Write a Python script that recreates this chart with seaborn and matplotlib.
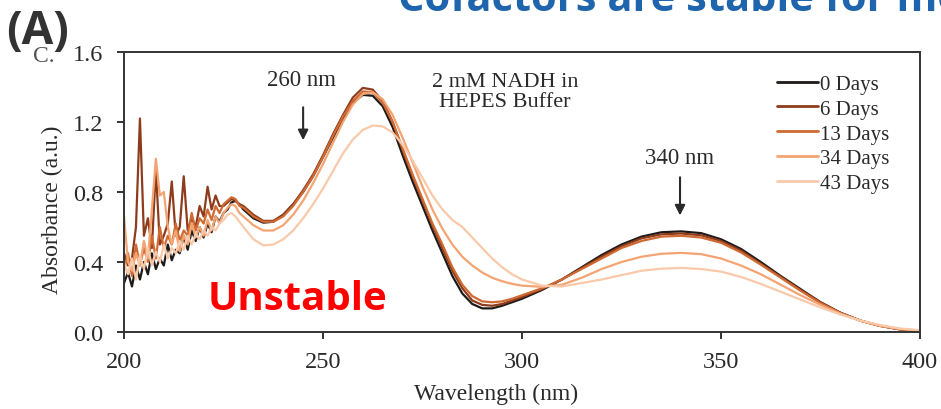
import numpy as np
import pandas as pd
import matplotlib
matplotlib.use("Agg")
import matplotlib.pyplot as plt
import seaborn as sns

# Wavelength grids (nm): noisy region, main bands
wl_noise = list(range(200, 230))
wl_uv = list(np.arange(230, 300.1, 2.5))
wl_vis = list(range(305, 401, 5))
wavelength = wl_noise + wl_uv + wl_vis

labels = ["0 Days", "6 Days", "13 Days", "34 Days", "43 Days"]
colors = ["#1e1a18", "#8e3b1c", "#cf6a32", "#f3a472", "#f9c9aa"]

# Absorbance
day0 = [0.28, 0.34, 0.26, 0.38, 0.30, 0.40, 0.33, 0.45, 0.36, 0.42,
        0.38, 0.50, 0.41, 0.47, 0.45, 0.55, 0.47, 0.58, 0.52, 0.60,
        0.54, 0.62, 0.57, 0.66, 0.63, 0.68, 0.70, 0.74, 0.75, 0.73,
        0.70, 0.65, 0.625, 0.63, 0.67, 0.73, 0.80, 0.89, 1.00, 1.11,
        1.22, 1.31, 1.355, 1.35, 1.29, 1.17, 1.01, 0.86, 0.72, 0.58,
        0.45, 0.32, 0.22, 0.16, 0.135, 0.135, 0.15, 0.17, 0.19,
        0.24, 0.30, 0.37, 0.44, 0.50, 0.545, 0.57, 0.575, 0.565, 0.53,
        0.475, 0.40, 0.32, 0.245, 0.17, 0.11, 0.065, 0.035, 0.015, 0.005]
day6 = [0.45, 0.38, 0.42, 0.60, 1.22, 0.55, 0.65, 0.48, 0.93, 0.50,
        0.55, 0.62, 0.86, 0.55, 0.60, 0.89, 0.58, 0.65, 0.60, 0.72,
        0.66, 0.83, 0.70, 0.78, 0.72, 0.72, 0.74, 0.76, 0.75, 0.73,
        0.72, 0.67, 0.635, 0.635, 0.67, 0.73, 0.81, 0.90, 1.01, 1.13,
        1.24, 1.34, 1.395, 1.385, 1.32, 1.20, 1.04, 0.89, 0.75, 0.61,
        0.48, 0.35, 0.25, 0.18, 0.155, 0.15, 0.16, 0.18, 0.20,
        0.245, 0.30, 0.365, 0.43, 0.49, 0.535, 0.558, 0.563, 0.553, 0.52,
        0.465, 0.39, 0.315, 0.24, 0.17, 0.11, 0.065, 0.035, 0.015, 0.005]
day13 = [0.35, 0.45, 0.32, 0.50, 0.38, 0.48, 0.40, 0.55, 0.42, 0.60,
         0.48, 0.55, 0.50, 0.62, 0.52, 0.58, 0.55, 0.68, 0.58, 0.65,
         0.62, 0.70, 0.64, 0.72, 0.68, 0.73, 0.75, 0.77, 0.76, 0.72,
         0.71, 0.66, 0.63, 0.63, 0.66, 0.72, 0.80, 0.89, 1.00, 1.12,
         1.23, 1.32, 1.375, 1.37, 1.31, 1.20, 1.05, 0.90, 0.76, 0.62,
         0.50, 0.37, 0.27, 0.205, 0.175, 0.17, 0.175, 0.19, 0.21,
         0.25, 0.30, 0.36, 0.42, 0.48, 0.52, 0.545, 0.55, 0.54, 0.51,
         0.455, 0.385, 0.31, 0.235, 0.165, 0.108, 0.065, 0.035, 0.016, 0.006]
day34 = [0.66, 0.40, 0.35, 0.45, 0.38, 0.52, 0.42, 0.70, 0.99, 0.78,
         0.80, 0.60, 0.50, 0.58, 0.46, 0.55, 0.50, 0.62, 0.54, 0.60,
         0.55, 0.64, 0.58, 0.66, 0.62, 0.68, 0.71, 0.73, 0.72, 0.68,
         0.66, 0.61, 0.58, 0.58, 0.61, 0.67, 0.75, 0.85, 0.96, 1.08,
         1.20, 1.30, 1.36, 1.37, 1.33, 1.24, 1.11, 0.97, 0.83, 0.70,
         0.59, 0.50, 0.43, 0.38, 0.34, 0.31, 0.29, 0.275, 0.265,
         0.258, 0.27, 0.31, 0.36, 0.40, 0.43, 0.447, 0.452, 0.445, 0.42,
         0.38, 0.33, 0.27, 0.21, 0.155, 0.105, 0.065, 0.035, 0.017, 0.008]
day43 = [0.40, 0.33, 0.42, 0.30, 0.44, 0.36, 0.48, 0.38, 0.46, 0.40,
         0.50, 0.42, 0.48, 0.45, 0.52, 0.47, 0.55, 0.50, 0.56, 0.53,
         0.58, 0.55, 0.60, 0.58, 0.62, 0.64, 0.67, 0.68, 0.66, 0.63,
         0.60, 0.53, 0.495, 0.50, 0.53, 0.58, 0.65, 0.73, 0.82, 0.92,
         1.02, 1.10, 1.155, 1.18, 1.175, 1.14, 1.07, 0.98, 0.88, 0.78,
         0.70, 0.64, 0.60, 0.54, 0.48, 0.42, 0.37, 0.33, 0.30,
         0.265, 0.26, 0.28, 0.30, 0.325, 0.35, 0.362, 0.366, 0.36, 0.345,
         0.315, 0.275, 0.23, 0.185, 0.14, 0.10, 0.065, 0.04, 0.02, 0.01]

series = [day0, day6, day13, day34, day43]
df = pd.concat([pd.DataFrame({"Wavelength": wavelength, "Absorbance": s, "Days": lab})
                for s, lab in zip(series, labels)], ignore_index=True)

sns.set_style("ticks")
plt.rcParams["font.family"] = ["Liberation Serif", "DejaVu Serif"]
ink = "#2a2a2a"

fig = plt.figure(figsize=(9.41, 4.10), dpi=100)
ax = fig.add_axes([0.1318, 0.1878, 0.8459, 0.6829])

sns.lineplot(data=df, x="Wavelength", y="Absorbance", hue="Days",
             hue_order=labels, palette=colors, estimator=None,
             linewidth=1.6, ax=ax)

ax.set_xlim(200, 400)
ax.set_ylim(0, 1.6)
ax.set_xticks([200, 250, 300, 350, 400])
ax.set_yticks([0.0, 0.4, 0.8, 1.2, 1.6])
ax.set_yticklabels(["0.0", "0.4", "0.8", "1.2", "1.6"])
ax.tick_params(axis="both", labelsize=17.5, direction="out", length=5,
               width=1.4, color="#333333", labelcolor=ink)
ax.tick_params(axis="x", pad=9)
ax.tick_params(axis="y", pad=10)
for sp in ax.spines.values():
    sp.set_linewidth(1.4)
    sp.set_color("#333333")
ax.set_xlabel("Wavelength (nm)", fontsize=17, color=ink)
ax.set_ylabel("Absorbance (a.u.)", fontsize=17, color=ink)
ax.xaxis.set_label_coords(0.467, -0.182)
ax.yaxis.set_label_coords(-0.077, 0.44)

leg = ax.legend(loc="upper right", bbox_to_anchor=(0.962, 0.92),
                frameon=False, fontsize=15, handlelength=2.0,
                handletextpad=0.1, labelspacing=0.25, borderaxespad=0,
                borderpad=0)
for line in leg.get_lines():
    line.set_linewidth(2)
for t in leg.get_texts():
    t.set_color(ink)

# annotations
ax.annotate("", xy=(245, 1.08), xytext=(245, 1.30),
            arrowprops=dict(arrowstyle="-|>", color=ink, lw=1.5,
                            mutation_scale=15))
ax.text(244.5, 1.445, "260 nm", fontsize=16.5, ha="center", va="center", color=ink)
ax.annotate("", xy=(339.7, 0.65), xytext=(339.7, 0.90),
            arrowprops=dict(arrowstyle="-|>", color=ink, lw=1.5,
                            mutation_scale=15))
ax.text(339.7, 1.0, "340 nm", fontsize=16.5, ha="center", va="center", color=ink)
ax.text(295.7, 1.375, "2 mM NADH in\nHEPES Buffer", fontsize=16, ha="center",
        va="center", color=ink, linespacing=1.05)
ax.text(220.9, 0.13, "Unstable", fontsize=29, fontweight="bold", color="#ff0000",
        family=["Open Sans", "DejaVu Sans"], ha="left", va="baseline")

# slide overlay texts
fig.text(0.035, 0.849, "C.", fontsize=17, color="#555555", ha="left", va="baseline")
fig.text(0.007, 0.924, "(A)", fontsize=33, fontweight="bold", color="#333333",
         family=["Open Sans", "DejaVu Sans"], ha="left", va="center")
fig.text(0.423, 0.972, "Cofactors are stable for more", fontsize=30,
         fontweight="bold", color="#1f65ad", family=["Open Sans", "DejaVu Sans"],
         ha="left", va="baseline")

fig.savefig("out.png", dpi=100)
